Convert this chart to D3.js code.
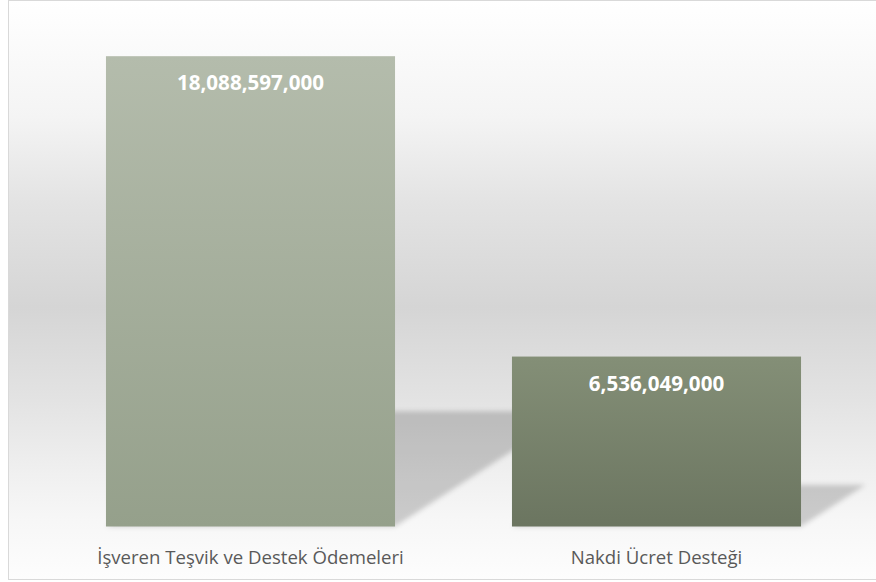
<!DOCTYPE html>
<html>
<head>
<meta charset="utf-8">
<script src="https://cdn.jsdelivr.net/npm/d3@7"></script>
<style>
  body { margin: 0; background: #fff; }
  svg { display: block; }
</style>
</head>
<body>
<svg id="canvas"></svg>
<script>
let categories = ['İşveren Teşvik ve Destek Ödemeleri', 'Nakdi Ücret Desteği'];
let values = [18088597000, 6536049000];
let yMax = 20000000000;

let width = 876;
let height = 582;

let canvas = d3.select('#canvas')
    .attr('width', width)
    .attr('height', height);

let defs = canvas.append('defs');

// chart area background: white -> grey -> white
let bg = defs.append('linearGradient')
    .attr('id', 'bg')
    .attr('x1', 0).attr('y1', 0).attr('x2', 0).attr('y2', 1);
[[0, '#ffffff'], [0.2, '#f4f4f4'], [0.35, '#e3e3e3'], [0.53, '#d5d5d5'],
 [0.68, '#e2e2e2'], [0.82, '#f0f0f0'], [0.9, '#f7f7f7'], [1, '#fdfdfd']]
    .forEach(s => bg.append('stop').attr('offset', s[0]).attr('stop-color', s[1]));

let barColors = [['#b4bcac', '#95a08b'], ['#848f77', '#6b7560']];
barColors.forEach((c, i) => {
    let g = defs.append('linearGradient')
        .attr('id', 'bar' + i)
        .attr('x1', 0).attr('y1', 0).attr('x2', 0).attr('y2', 1);
    g.append('stop').attr('offset', 0).attr('stop-color', c[0]);
    g.append('stop').attr('offset', 1).attr('stop-color', c[1]);
});

defs.append('filter')
    .attr('id', 'blur')
    .attr('x', '-20%').attr('y', '-20%').attr('width', '140%').attr('height', '140%')
    .append('feGaussianBlur')
    .attr('stdDeviation', 2.5);

canvas.append('rect')
    .attr('x', 8.5).attr('y', 0.5)
    .attr('width', 870).attr('height', 579)
    .attr('fill', 'url(#bg)');

let xScale = d3.scaleBand()
    .domain(categories)
    .range([47.5, 859.5])
    .paddingInner(0.288)
    .paddingOuter(0.144);

let yScale = d3.scaleLinear()
    .domain([0, yMax])
    .range([526.5, 6.5]);

let data = categories.map((c, i) => ({ name: c, value: values[i], idx: i }));

// perspective shadows behind the bars
canvas.selectAll('.shadow')
    .data(data)
    .enter()
    .append('path')
    .attr('class', 'shadow')
    .attr('fill', '#000')
    .attr('fill-opacity', 0.18)
    .attr('filter', 'url(#blur)')
    .attr('d', (d) => {
        let x0 = xScale(d.name);
        let x1 = x0 + xScale.bandwidth();
        let yb = yScale(0);
        let h = yb - yScale(d.value);
        let dx = h * 0.38;
        let dy = h * 0.245;
        return 'M' + x0 + ',' + yb + 'L' + x1 + ',' + yb +
               'L' + (x1 + dx) + ',' + (yb - dy) + 'L' + (x0 + dx) + ',' + (yb - dy) + 'Z';
    });

canvas.selectAll('.bar')
    .data(data)
    .enter()
    .append('rect')
    .attr('class', 'bar')
    .attr('x', (d) => xScale(d.name))
    .attr('y', (d) => yScale(d.value))
    .attr('width', xScale.bandwidth())
    .attr('height', (d) => yScale(0) - yScale(d.value))
    .attr('fill', (d) => 'url(#bar' + d.idx + ')');

canvas.selectAll('.value')
    .data(data)
    .enter()
    .append('text')
    .attr('class', 'value')
    .attr('x', (d) => xScale(d.name) + xScale.bandwidth() / 2)
    .attr('y', (d) => yScale(d.value) + 34)
    .attr('text-anchor', 'middle')
    .attr('font-family', 'Open Sans')
    .attr('font-weight', 'bold')
    .attr('font-size', 20.6)
    .attr('fill', '#ffffff')
    .text((d) => d3.format(',')(d.value));

let xAxis = d3.axisBottom(xScale).tickSize(0).tickPadding(0);
let axisG = canvas.append('g')
    .attr('transform', 'translate(0,' + yScale(0) + ')')
    .call(xAxis);
axisG.select('.domain').remove();
axisG.selectAll('text')
    .attr('dy', 0)
    .attr('y', 37.5)
    .attr('font-family', 'Open Sans')
    .attr('font-size', 18.6)
    .attr('fill', '#595959');

// outer frame
canvas.append('rect')
    .attr('x', 8.5).attr('y', 0.5)
    .attr('width', 870).attr('height', 579)
    .attr('fill', 'none')
    .attr('stroke', '#d9d9d9')
    .attr('stroke-width', 1);
</script>
</body>
</html>
